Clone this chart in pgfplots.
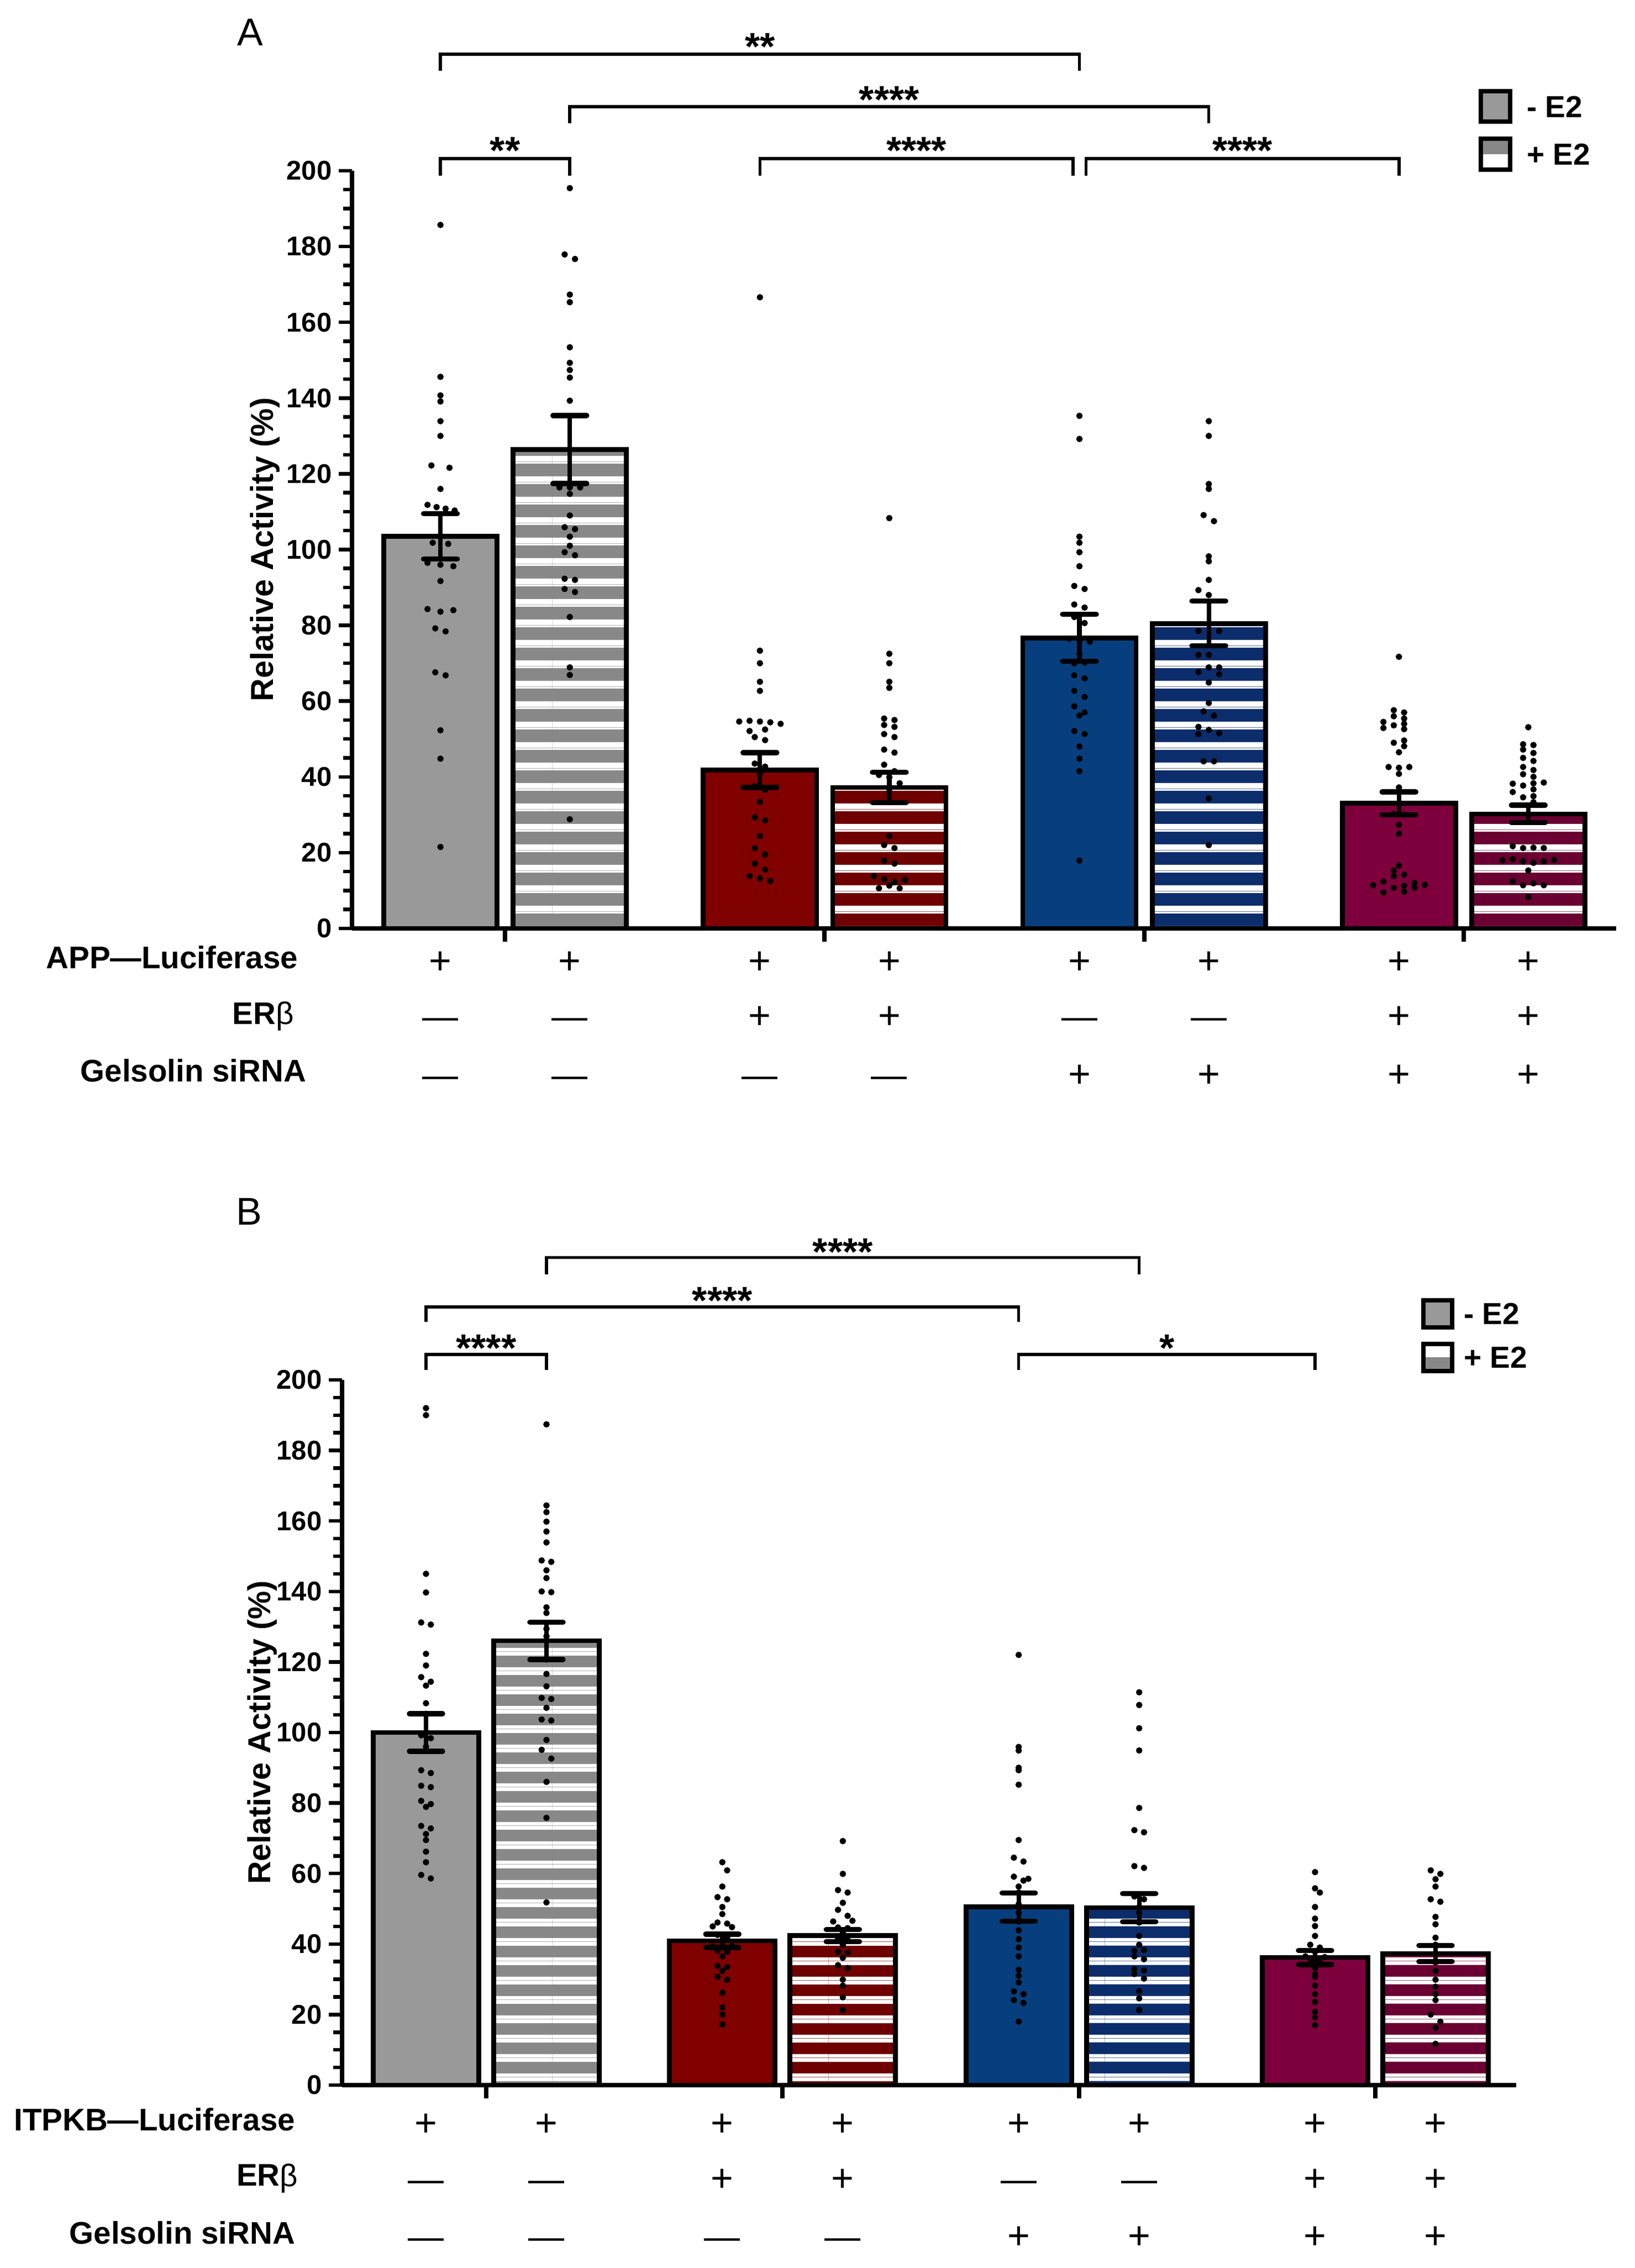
\documentclass[border=0pt]{standalone}
\usepackage{fontspec}
\setmainfont{Liberation Sans}
\usepackage{pgfplots}
\pgfplotsset{compat=1.18}
\usetikzlibrary{patterns.meta}

\definecolor{gA}{HTML}{999999}
\definecolor{gB}{HTML}{888888}
\definecolor{rA}{HTML}{800000}
\definecolor{rB}{HTML}{6E0000}
\definecolor{bA}{HTML}{073E7D}
\definecolor{bB}{HTML}{0C2D6B}
\definecolor{mA}{HTML}{7D003C}
\definecolor{mB}{HTML}{6A0032}

\tikzdeclarepattern{
  name=hstripeA, type=uncolored,
  bottom left={(0pt,0pt)}, top right={(100pt,7.33pt)},
  tile size={(100pt,7.33pt)},
  code={
    \pgfpathrectangle{\pgfpointorigin}{\pgfpoint{100pt}{2.03pt}}
    \pgfpathrectangle{\pgfpoint{0pt}{6.69pt}}{\pgfpoint{100pt}{0.64pt}}
    \pgfusepath{fill}
  }
}
\tikzdeclarepattern{
  name=hstripeB, type=uncolored,
  bottom left={(0pt,0pt)}, top right={(100pt,6.93pt)},
  tile size={(100pt,6.93pt)},
  code={
    \pgfpathrectangle{\pgfpointorigin}{\pgfpoint{100pt}{1.24pt}}
    \pgfpathrectangle{\pgfpoint{0pt}{5.5pt}}{\pgfpoint{100pt}{1.43pt}}
    \pgfusepath{fill}
  }
}

\tikzset{
  brk/.style={line width=1.1pt, black},
  star/.style={font=\bfseries\fontsize{14}{14}\selectfont, anchor=base, inner sep=0pt, yshift=-8.4pt},
  sym/.style={font=\fontsize{14}{14}\selectfont, anchor=base, inner sep=0pt},
  dsh/.style={font=\fontsize{13}{13}\selectfont, anchor=base, inner sep=0pt},
}

\pgfplotsset{
  myaxis/.style={
    scale only axis, anchor=south west,
    ymin=0, ymax=200,
    axis lines*=left,
    axis line style={line width=1.5pt, black},
    ytick={0,20,...,200},
    minor y tick num=3,
    tick align=outside,
    major tick length=4.8pt,
    minor tick length=3.3pt,
    tick style={black, line width=1.3pt},
    xtick style={line width=1.6pt},
    xticklabels={},
    yticklabel style={font=\bfseries\fontsize{9.8}{11}\selectfont, xshift=1pt},
    /pgf/number format/assume math mode=true,
    clip=false,
    unbounded coords=jump,
    ylabel={Relative Activity (\%)},
    ylabel style={font=\bfseries\fontsize{11.5}{13}\selectfont, anchor=center},
  },
  mybar/.style={ybar, bar shift=0pt, bar width=0.876, draw=black, line width=1.75pt},
  dots/.style={only marks, mark=*, mark size=0.95pt, black, forget plot},
  estem/.style={forget plot, black, line width=1.65pt, mark=none},
  ecap/.style={forget plot, only marks, mark=-, mark size=6.1pt, mark options={black, line width=1.9pt, line cap=round}},
}

\begin{document}
\begin{tikzpicture}
\useasboundingbox (0,0) rectangle (591.6pt,820.8pt);

% ================= Panel A =================
\begin{axis}[myaxis,
  at={(127.4pt,484.8pt)}, width=457.6pt, height=274.2pt,
  xmin=-0.684, xmax=9.09,
  xtick={0.5,2.97,5.44,7.91},
  ylabel style={at={(axis description cs:-0.0686,0.5)}},
]
\addplot[mybar, fill=gA] coordinates {(0,103.5)};
\addplot[mybar, preaction={fill=gB}, pattern=hstripeA, pattern color=white] coordinates {(1,126.4)};
\addplot[mybar, fill=rA] coordinates {(2.47,41.8)};
\addplot[mybar, preaction={fill=rB}, pattern=hstripeA, pattern color=white] coordinates {(3.47,37.2)};
\addplot[mybar, fill=bA] coordinates {(4.94,76.7)};
\addplot[mybar, preaction={fill=bB}, pattern=hstripeA, pattern color=white] coordinates {(5.94,80.5)};
\addplot[mybar, fill=mA] coordinates {(7.41,33.0)};
\addplot[mybar, preaction={fill=mB}, pattern=hstripeA, pattern color=white] coordinates {(8.41,30.2)};

\addplot[dots] coordinates {
(0,185.7) (0,145.6) (0,140.7) (0,139.1) (0,133.9) (0,130.0) (-0.07,122.2) (0.07,121.6) (0,116.0) (-0.1,111.8) (-0.03,111.2) (0.04,110.8) (0.11,110.3) (0,103.5) (-0.06,101.8) (0.06,101.5) (-0.1,96.5) (0,96.0) (0.1,95.6) (0,91.7) (-0.1,84.3) (0,83.6) (0.1,84.0) (-0.04,79.2) (0.04,78.4) (-0.04,67.6) (0.04,66.8) (0,52.3) (0,44.8) (0,21.5)
(1,195.4) (0.96,177.9) (1.04,176.7) (1,167.3) (1,165.3) (1,153.4) (1,149.3) (1,147.4) (1,145.4) (1,139.3) (0.92,116.4) (1,116.4) (1.08,116.4) (1,114.7) (1,109.0) (0.96,105.9) (1.04,105.4) (1,103.4) (1,101.0) (0.96,99.3) (1.04,98.5) (0.96,92.3) (1.04,92.0) (0.96,89.6) (1.04,88.8) (1,82.2) (1,68.9) (1,66.9) (1,28.8)
(2.47,166.6) (2.47,73.3) (2.47,70.0) (2.47,65.1) (2.47,62.7) (2.31,54.6) (2.39,54.8) (2.47,54.6) (2.55,54.4) (2.63,54.0) (2.39,52.1) (2.51,52.5) (2.43,50.5) (2.51,49.7) (2.43,43.5) (2.51,42.7) (2.47,40.9) (2.43,37.5) (2.51,36.6) (2.47,33.4) (2.43,29.3) (2.51,28.5) (2.47,24.4) (2.43,21.2) (2.51,19.5) (2.43,17.1) (2.51,15.5) (2.39,13.8) (2.47,13.2) (2.55,12.5)
(3.47,108.3) (3.47,72.5) (3.47,70.0) (3.47,65.1) (3.47,63.5) (3.43,55.4) (3.51,55.0) (3.43,53.7) (3.51,53.2) (3.43,51.3) (3.51,50.5) (3.43,47.2) (3.51,46.4) (3.43,43.2) (3.51,41.5) (3.39,40.5) (3.47,39.9) (3.55,38.3) (3.47,36.2) (3.47,33.4) (3.47,24.4) (3.43,22.0) (3.51,21.2) (3.43,17.9) (3.51,17.1) (3.35,13.8) (3.43,13.0) (3.51,12.2) (3.59,12.8) (3.39,10.6) (3.47,11.3) (3.55,10.6)
(4.94,135.3) (4.94,129.2) (4.94,103.4) (4.94,101.8) (4.94,99.3) (4.94,95.6) (4.90,90.4) (4.98,89.6) (4.90,85.5) (4.98,84.7) (4.90,82.2) (4.98,80.6) (4.86,76.5) (4.94,76.0) (5.02,75.7) (4.94,72.5) (4.90,70.0) (4.98,70.2) (4.90,66.8) (4.98,66.0) (4.90,62.7) (4.98,61.1) (4.90,58.6) (4.98,57.0) (4.94,56.2) (4.90,52.1) (4.98,51.3) (4.94,48.0) (4.94,44.8) (4.94,41.5) (4.94,17.9)
(5.94,133.9) (5.94,130.0) (5.94,117.3) (5.94,116.0) (5.90,109.1) (5.98,107.5) (5.94,98.2) (5.94,96.9) (5.94,92.0) (5.86,89.3) (5.94,88.0) (5.86,78.5) (6.02,78.5) (5.86,72.2) (5.94,72.2) (5.94,68.9) (6.02,68.9) (5.86,67.7) (6.02,67.1) (5.94,64.9) (5.94,59.5) (5.90,57.3) (5.98,56.2) (5.86,53.2) (5.94,52.4) (5.86,51.3) (6.02,51.5) (5.90,44.1) (5.98,44.1) (5.94,34.3) (5.94,22.0)
(7.41,71.7) (7.37,57.6) (7.45,57.0) (7.37,56.0) (7.45,55.4) (7.29,54.5) (7.45,54.0) (7.37,53.6) (7.29,52.9) (7.45,52.6) (7.37,49.0) (7.45,49.6) (7.45,48.1) (7.41,46.5) (7.33,42.6) (7.41,42.4) (7.49,42.6) (7.41,40.8) (7.41,37.2) (7.37,30.2) (7.45,30.0) (7.41,27.3) (7.41,25.0) (7.41,16.6) (7.37,15.3) (7.45,14.2) (7.37,13.8) (7.29,12.4) (7.53,12.0) (7.21,11.4) (7.45,11.3) (7.61,11.5) (7.37,10.7) (7.53,10.7) (7.45,9.7) (7.29,9.5)
(8.41,53.1) (8.37,48.6) (8.45,48.4) (8.37,47.2) (8.45,46.3) (8.37,45.0) (8.45,44.2) (8.37,42.6) (8.45,41.8) (8.37,40.7) (8.45,40.0) (8.53,38.5) (8.45,38.3) (8.29,38.2) (8.37,37.7) (8.45,36.7) (8.29,36.0) (8.37,34.6) (8.45,34.9) (8.45,33.3) (8.29,21.7) (8.37,21.2) (8.45,21.3) (8.53,21.2) (8.21,18.0) (8.29,18.3) (8.37,17.7) (8.45,17.3) (8.53,17.7) (8.61,18.1) (8.41,15.3) (8.29,12.4) (8.37,11.4) (8.45,11.9) (8.53,11.4) (8.41,8.3)
};

% error bars (mean -/+ SEM)
\addplot[estem] coordinates {
(0,97.5) (0,109.5) (0,nan)
(1,117.4) (1,135.4) (1,nan)
(2.47,37.2) (2.47,46.4) (2.47,nan)
(3.47,33.2) (3.47,41.2) (3.47,nan)
(4.94,70.5) (4.94,82.9) (4.94,nan)
(5.94,74.6) (5.94,86.4) (5.94,nan)
(7.41,30.0) (7.41,36.0) (7.41,nan)
(8.41,27.9) (8.41,32.5)
};
\addplot[ecap] coordinates {
(0,97.5) (0,109.5) (1,117.4) (1,135.4) (2.47,37.2) (2.47,46.4) (3.47,33.2) (3.47,41.2)
(4.94,70.5) (4.94,82.9) (5.94,74.6) (5.94,86.4) (7.41,30.0) (7.41,36.0) (8.41,27.9) (8.41,32.5)
};

% significance brackets
\draw[brk] (axis cs:0,226.4) -- (axis cs:0,230.8) -- (axis cs:4.94,230.8) -- (axis cs:4.94,226.4);
\draw[brk] (axis cs:1,212.5) -- (axis cs:1,216.9) -- (axis cs:5.94,216.9) -- (axis cs:5.94,212.5);
\draw[brk] (axis cs:0,198.7) -- (axis cs:0,203.2) -- (axis cs:1,203.2) -- (axis cs:1,198.7);
\draw[brk] (axis cs:2.47,198.7) -- (axis cs:2.47,203.2) -- (axis cs:4.89,203.2) -- (axis cs:4.89,198.7);
\draw[brk] (axis cs:4.99,198.7) -- (axis cs:4.99,203.2) -- (axis cs:7.41,203.2) -- (axis cs:7.41,198.7);
\node[star] at (axis cs:2.47,235.3) {**};
\node[star] at (axis cs:3.47,221.4) {****};
\node[star] at (axis cs:0.5,207.9) {**};
\node[star] at (axis cs:3.68,207.9) {****};
\node[star] at (axis cs:6.20,207.9) {****};

% condition rows
\node[sym, yshift=-16.5pt] at (axis cs:0,0) {+};
\node[sym, yshift=-16.5pt] at (axis cs:1,0) {+};
\node[sym, yshift=-16.5pt] at (axis cs:2.47,0) {+};
\node[sym, yshift=-16.5pt] at (axis cs:3.47,0) {+};
\node[sym, yshift=-16.5pt] at (axis cs:4.94,0) {+};
\node[sym, yshift=-16.5pt] at (axis cs:5.94,0) {+};
\node[sym, yshift=-16.5pt] at (axis cs:7.41,0) {+};
\node[sym, yshift=-16.5pt] at (axis cs:8.41,0) {+};
\node[dsh, yshift=-36.3pt] at (axis cs:0,0) {—};
\node[dsh, yshift=-36.3pt] at (axis cs:1,0) {—};
\node[sym, yshift=-36.3pt] at (axis cs:2.47,0) {+};
\node[sym, yshift=-36.3pt] at (axis cs:3.47,0) {+};
\node[dsh, yshift=-36.3pt] at (axis cs:4.94,0) {—};
\node[dsh, yshift=-36.3pt] at (axis cs:5.94,0) {—};
\node[sym, yshift=-36.3pt] at (axis cs:7.41,0) {+};
\node[sym, yshift=-36.3pt] at (axis cs:8.41,0) {+};
\node[dsh, yshift=-57.5pt] at (axis cs:0,0) {—};
\node[dsh, yshift=-57.5pt] at (axis cs:1,0) {—};
\node[dsh, yshift=-57.5pt] at (axis cs:2.47,0) {—};
\node[dsh, yshift=-57.5pt] at (axis cs:3.47,0) {—};
\node[sym, yshift=-57.5pt] at (axis cs:4.94,0) {+};
\node[sym, yshift=-57.5pt] at (axis cs:5.94,0) {+};
\node[sym, yshift=-57.5pt] at (axis cs:7.41,0) {+};
\node[sym, yshift=-57.5pt] at (axis cs:8.41,0) {+};
\end{axis}

% ================= Panel B =================
\begin{axis}[myaxis,
  at={(123.8pt,66.2pt)}, width=425pt, height=255.2pt,
  xmin=-0.697, xmax=9.05,
  xtick={0.5,2.96,5.42,7.88},
  ylabel style={at={(axis description cs:-0.0678,0.5)}},
]
\addplot[mybar, fill=gA] coordinates {(0,100.0)};
\addplot[mybar, preaction={fill=gB}, pattern=hstripeB, pattern color=white] coordinates {(1,126.0)};
\addplot[mybar, fill=rA] coordinates {(2.46,40.9)};
\addplot[mybar, preaction={fill=rB}, pattern=hstripeB, pattern color=white] coordinates {(3.46,42.4)};
\addplot[mybar, fill=bA] coordinates {(4.92,50.5)};
\addplot[mybar, preaction={fill=bB}, pattern=hstripeB, pattern color=white] coordinates {(5.92,50.3)};
\addplot[mybar, fill=mA] coordinates {(7.38,36.2)};
\addplot[mybar, preaction={fill=mB}, pattern=hstripeB, pattern color=white] coordinates {(8.38,37.3)};

\addplot[dots] coordinates {
(0,192.0) (0,190.0) (0,145.0) (0,139.7) (-0.04,131.2) (0.04,130.6) (0,122.3) (0,119.0) (-0.04,115.7) (0.04,114.4) (0,113.3) (0,108.3) (0,105.3) (-0.04,99.2) (0.04,98.4) (0,96.0) (-0.04,89.3) (0.04,88.5) (-0.04,84.9) (0.04,84.5) (-0.04,80.6) (0.04,79.7) (0,78.9) (-0.04,73.5) (0.04,72.8) (0,71.2) (0,69.5) (0,66.2) (0,63.2) (-0.04,59.6) (0.04,58.6)
(1,187.4) (1,164.4) (1,162.5) (1,159.8) (1,157.0) (1,153.9) (0.96,148.8) (1.04,148.4) (1,146.0) (1,143.8) (0.96,140.0) (1.04,139.8) (1,135.5) (1,133.9) (1,129.4) (1,127.3) (1,120.7) (1,116.6) (1,113.1) (0.96,109.8) (1.04,109.5) (1,107.0) (0.96,103.7) (1.04,103.4) (1,97.9) (0.96,95.1) (1.04,92.6) (1,86.0) (1,75.8) (1,51.8)
(2.46,63.2) (2.50,60.9) (2.46,56.3) (2.42,53.3) (2.50,52.7) (2.46,50.5) (2.46,48.5) (2.42,46.1) (2.50,45.8) (2.38,45.0) (2.54,44.8) (2.42,42.6) (2.50,41.9) (2.46,40.9) (2.38,39.3) (2.54,39.5) (2.42,38.1) (2.50,37.8) (2.46,36.5) (2.42,33.8) (2.50,33.5) (2.46,32.4) (2.42,30.7) (2.50,29.9) (2.46,26.2) (2.46,22.0) (2.46,20.0) (2.46,17.2)
(3.46,69.2) (3.46,59.9) (3.42,55.3) (3.50,54.6) (3.46,51.7) (3.42,49.7) (3.50,48.0) (3.38,46.4) (3.54,46.6) (3.42,44.7) (3.50,44.5) (3.46,43.1) (3.42,41.4) (3.50,41.2) (3.46,39.8) (3.42,37.8) (3.50,37.6) (3.46,36.1) (3.42,34.0) (3.50,33.2) (3.46,29.9) (3.46,28.2) (3.46,24.9) (3.46,21.3)
(4.92,122.0) (4.92,95.9) (4.92,94.9) (4.92,90.0) (4.92,89.3) (4.92,85.2) (4.92,69.5) (4.88,64.5) (4.96,63.4) (4.88,59.1) (4.96,58.0) (5.00,58.5) (4.92,56.3) (4.92,54.6) (4.92,51.3) (4.92,48.9) (4.92,46.4) (4.92,43.9) (4.92,41.4) (4.92,39.0) (4.92,36.5) (4.92,32.7) (4.92,31.0) (4.92,29.1) (4.88,26.6) (4.96,25.8) (4.88,24.1) (4.96,23.3) (4.92,18.0)
(5.92,111.4) (5.92,107.8) (5.92,101.2) (5.92,94.9) (5.92,78.6) (5.88,72.3) (5.96,71.7) (5.88,62.1) (5.96,61.6) (5.88,53.5) (5.96,52.7) (5.92,50.5) (5.92,48.9) (5.92,46.1) (5.92,42.3) (5.92,39.8) (5.88,38.1) (5.96,38.3) (5.88,36.5) (5.96,35.7) (5.88,32.9) (5.96,32.5) (5.88,31.5) (5.96,30.2) (5.92,26.6) (5.92,24.6) (5.92,21.3)
(7.38,60.4) (7.38,55.8) (7.42,54.6) (7.38,50.5) (7.38,47.2) (7.38,45.1) (7.38,42.3) (7.34,39.8) (7.42,39.0) (7.38,37.8) (7.30,36.5) (7.46,36.3) (7.34,35.7) (7.42,34.8) (7.38,33.2) (7.38,31.5) (7.38,30.7) (7.38,28.2) (7.38,25.8) (7.38,23.6) (7.38,20.8) (7.38,19.2) (7.38,17.0)
(8.34,60.9) (8.42,59.9) (8.38,58.4) (8.38,56.3) (8.34,52.7) (8.42,52.0) (8.38,47.7) (8.38,45.6) (8.38,41.8) (8.38,39.8) (8.38,37.3) (8.38,34.8) (8.38,32.4) (8.38,29.9) (8.38,27.9) (8.38,25.8) (8.38,24.1) (8.34,20.0) (8.42,18.0) (8.38,16.3) (8.38,11.7)
};

\addplot[estem] coordinates {
(0,94.7) (0,105.3) (0,nan)
(1,120.7) (1,131.3) (1,nan)
(2.46,39.0) (2.46,42.8) (2.46,nan)
(3.46,40.7) (3.46,44.1) (3.46,nan)
(4.92,46.5) (4.92,54.5) (4.92,nan)
(5.92,46.3) (5.92,54.3) (5.92,nan)
(7.38,34.2) (7.38,38.2) (7.38,nan)
(8.38,35.0) (8.38,39.6)
};
\addplot[ecap, mark size=6pt] coordinates {
(0,94.7) (0,105.3) (1,120.7) (1,131.3) (2.46,39.0) (2.46,42.8) (3.46,40.7) (3.46,44.1)
(4.92,46.5) (4.92,54.5) (5.92,46.3) (5.92,54.3) (7.38,34.2) (7.38,38.2) (8.38,35.0) (8.38,39.6)
};

\draw[brk] (axis cs:1,230.0) -- (axis cs:1,234.7) -- (axis cs:5.92,234.7) -- (axis cs:5.92,230.0);
\draw[brk] (axis cs:0,216.5) -- (axis cs:0,220.7) -- (axis cs:4.92,220.7) -- (axis cs:4.92,216.5);
\draw[brk] (axis cs:0,202.8) -- (axis cs:0,207.2) -- (axis cs:1,207.2) -- (axis cs:1,202.8);
\draw[brk] (axis cs:4.92,202.8) -- (axis cs:4.92,207.2) -- (axis cs:7.38,207.2) -- (axis cs:7.38,202.8);
\node[star] at (axis cs:3.46,239.1) {****};
\node[star] at (axis cs:2.46,225.3) {****};
\node[star] at (axis cs:0.5,211.9) {****};
\node[star] at (axis cs:6.15,211.9) {*};

\node[sym, yshift=-18.5pt] at (axis cs:0,0) {+};
\node[sym, yshift=-18.5pt] at (axis cs:1,0) {+};
\node[sym, yshift=-18.5pt] at (axis cs:2.46,0) {+};
\node[sym, yshift=-18.5pt] at (axis cs:3.46,0) {+};
\node[sym, yshift=-18.5pt] at (axis cs:4.92,0) {+};
\node[sym, yshift=-18.5pt] at (axis cs:5.92,0) {+};
\node[sym, yshift=-18.5pt] at (axis cs:7.38,0) {+};
\node[sym, yshift=-18.5pt] at (axis cs:8.38,0) {+};
\node[dsh, yshift=-38.5pt] at (axis cs:0,0) {—};
\node[dsh, yshift=-38.5pt] at (axis cs:1,0) {—};
\node[sym, yshift=-38.5pt] at (axis cs:2.46,0) {+};
\node[sym, yshift=-38.5pt] at (axis cs:3.46,0) {+};
\node[dsh, yshift=-38.5pt] at (axis cs:4.92,0) {—};
\node[dsh, yshift=-38.5pt] at (axis cs:5.92,0) {—};
\node[sym, yshift=-38.5pt] at (axis cs:7.38,0) {+};
\node[sym, yshift=-38.5pt] at (axis cs:8.38,0) {+};
\node[dsh, yshift=-59.3pt] at (axis cs:0,0) {—};
\node[dsh, yshift=-59.3pt] at (axis cs:1,0) {—};
\node[dsh, yshift=-59.3pt] at (axis cs:2.46,0) {—};
\node[dsh, yshift=-59.3pt] at (axis cs:3.46,0) {—};
\node[sym, yshift=-59.3pt] at (axis cs:4.92,0) {+};
\node[sym, yshift=-59.3pt] at (axis cs:5.92,0) {+};
\node[sym, yshift=-59.3pt] at (axis cs:7.38,0) {+};
\node[sym, yshift=-59.3pt] at (axis cs:8.38,0) {+};
\end{axis}

% ================= Row labels =================
\begin{scope}[every node/.style={anchor=base east, inner sep=0pt, font=\fontsize{11.3}{13}\selectfont}]
\node at (108pt,470.2pt) {\bfseries APP—Luciferase};
\node at (106.5pt,450pt) {{\bfseries ER}β};
\node at (111pt,429.2pt) {\bfseries Gelsolin siRNA};
\node at (107pt,49.6pt) {\bfseries ITPKB—Luciferase};
\node at (108pt,29.6pt) {{\bfseries ER}β};
\node at (107pt,8.8pt) {\bfseries Gelsolin siRNA};
\end{scope}

% ================= Panel labels =================
\node[anchor=base, inner sep=0pt, font=\fontsize{14}{14}\selectfont] at (90.6pt,804.2pt) {A};
\node[anchor=base, inner sep=0pt, font=\fontsize{14}{14}\selectfont] at (90.2pt,377.4pt) {B};

% ================= Legends =================
\begin{scope}[line width=1.5pt]
\fill[gA] (536pt,776.8pt) rectangle (546.6pt,787.8pt);
\draw (536pt,776.8pt) rectangle (546.6pt,787.8pt);
\fill[white] (536pt,759.4pt) rectangle (546.6pt,770.6pt);
\fill[gB] (536pt,765pt) rectangle (546.6pt,770.6pt);
\draw (536pt,759.4pt) rectangle (546.6pt,770.6pt);
\fill[gA] (515.2pt,340.4pt) rectangle (525.6pt,350.2pt);
\draw (515.2pt,340.4pt) rectangle (525.6pt,350.2pt);
\fill[white] (515.2pt,324.6pt) rectangle (525.6pt,334.4pt);
\fill[gB] (515.2pt,324.6pt) rectangle (525.6pt,329.5pt);
\draw (515.2pt,324.6pt) rectangle (525.6pt,334.4pt);
\end{scope}
\begin{scope}[every node/.style={anchor=base west, inner sep=0pt, font=\bfseries\fontsize{11}{13}\selectfont}]
\node at (552.4pt,778.3pt) {- E2};
\node at (552.4pt,761.1pt) {+ E2};
\node at (529.6pt,341.5pt) {- E2};
\node at (529.6pt,325.7pt) {+ E2};
\end{scope}
\end{tikzpicture}
\end{document}
